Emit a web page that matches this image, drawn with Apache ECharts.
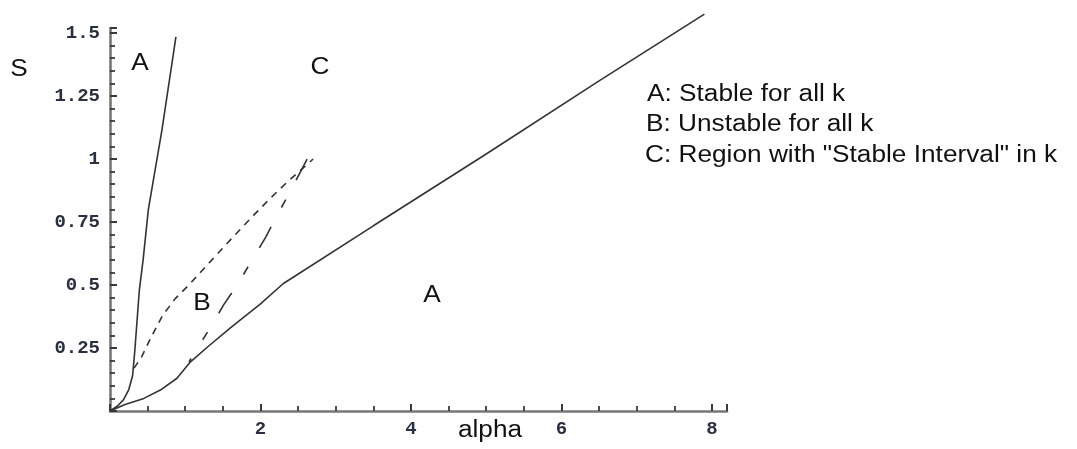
<!DOCTYPE html>
<html>
<head>
<meta charset="utf-8">
<script src="https://cdn.jsdelivr.net/npm/echarts@6/dist/echarts.min.js"></script>
<style>
  html, body { margin: 0; padding: 0; background: #fff; }
  #chart { width: 1077px; height: 449px; }
</style>
</head>
<body>
<div id="chart"></div>
<script>
// Steep solid boundary (left edge of region A)
const steepAlpha = [0, 0.1, 0.18, 0.25, 0.3, 0.33, 0.36, 0.39, 0.44, 0.51, 0.69, 0.876];
const steepS     = [0, 0.02, 0.045, 0.085, 0.14, 0.24, 0.36, 0.48, 0.6, 0.8, 1.115, 1.485];

// Lower solid boundary (right region A)
const lowerAlpha = [0, 0.2, 0.45, 0.67, 0.89, 1.07, 1.3, 1.6, 2.0, 2.3, 3.5, 5.0, 6.5, 7.9];
const lowerS     = [0, 0.026, 0.05, 0.083, 0.13, 0.195, 0.255, 0.33, 0.425, 0.505, 0.735, 1.02, 1.31, 1.575];

// Short-dashed boundary (upper edge of region B)
const shortDashAlpha = [0.32, 0.42, 0.55, 0.7, 0.87, 1.07, 1.33, 1.6, 1.87, 2.13, 2.36, 2.55, 2.7];
const shortDashS     = [0.17, 0.215, 0.295, 0.38, 0.447, 0.507, 0.592, 0.679, 0.765, 0.844, 0.91, 0.96, 1.0];

// Long-dashed boundary (lower edge of region B)
const longDashAlpha = [1.05, 1.3, 1.51, 1.69, 1.85, 2.07, 2.22, 2.38, 2.62];
const longDashS     = [0.195, 0.315, 0.421, 0.5, 0.58, 0.69, 0.776, 0.863, 1.0];

// Axis ticks
const xTickInterval = 2;
const yTickInterval = 0.25;
const xMax = 8.2;
const yMax = 1.52;

// Annotations
const axisTitleX = 'alpha';
const axisTitleY = 'S';
const legendLines = ['A: Stable for all k', 'B: Unstable for all k', 'C: Region with "Stable Interval" in k'];

function pairs(xs, ys) { return xs.map((x, i) => [x, ys[i]]); }
function isMultiple(v, step) { const r = v / step; return Math.abs(r - Math.round(r)) < 1e-6; }

const lineColor = '#333333';
const textFont = '23px "Liberation Sans", Arial, sans-serif';
const sx = 1.14;

function txt(text, x, y, align) {
  return {
    type: 'text', x: x, y: y, scaleX: sx, silent: true,
    style: { text: text, font: textFont, fill: '#111',
      align: align || 'center', verticalAlign: 'middle',
      textAlign: align || 'center', textVerticalAlign: 'middle' }
  };
}

const tickLabelStyle = {
  color: '#2a3040',
  fontFamily: '"Liberation Mono", "Courier New", monospace',
  fontSize: 19,
  fontWeight: 'bold'
};

const chart = echarts.init(document.getElementById('chart'), null, { renderer: 'canvas' });
chart.setOption({
  animation: false,
  backgroundColor: '#ffffff',
  grid: { left: 110, right: 350, top: 28, bottom: 38 },
  xAxis: {
    type: 'value', min: 0, max: xMax, interval: xTickInterval,
    splitLine: { show: false },
    axisLine: { show: true, lineStyle: { color: '#777', width: 2.6 } },
    axisTick: { show: true, inside: true, length: 7, lineStyle: { color: '#3a3a3a', width: 2 } },
    minorTick: { show: true, splitNumber: 4, length: 5, lineStyle: { color: '#3a3a3a', width: 1.8 } },
    axisLabel: Object.assign({ margin: 9,
      formatter: v => (v > 0 && isMultiple(v, xTickInterval)) ? String(v) : '' }, tickLabelStyle)
  },
  yAxis: {
    type: 'value', min: 0, max: yMax, interval: yTickInterval,
    splitLine: { show: false },
    axisLine: { show: true, lineStyle: { color: '#777', width: 2.6 } },
    axisTick: { show: true, inside: true, length: 7, lineStyle: { color: '#3a3a3a', width: 2 } },
    minorTick: { show: true, splitNumber: 5, length: 5, lineStyle: { color: '#3a3a3a', width: 1.8 } },
    axisLabel: Object.assign({ margin: 10,
      formatter: v => (v > 0 && isMultiple(v, yTickInterval)) ? String(+v.toFixed(2)) : '' }, tickLabelStyle)
  },
  series: [
    { type: 'line', data: pairs(steepAlpha, steepS), showSymbol: false, clip: false,
      lineStyle: { color: lineColor, width: 1.6 } },
    { type: 'line', data: pairs(lowerAlpha, lowerS), showSymbol: false, clip: false,
      lineStyle: { color: lineColor, width: 1.6 } },
    { type: 'line', data: pairs(shortDashAlpha, shortDashS), showSymbol: false, clip: false,
      lineStyle: { color: lineColor, width: 1.6, type: [7, 6] } },
    { type: 'line', data: pairs(longDashAlpha, longDashS), showSymbol: false, clip: false,
      lineStyle: { color: lineColor, width: 1.6, type: [24, 22, 9, 22], dashOffset: 20 } }
  ],
  graphic: [
    txt(axisTitleY, 19, 70),
    txt('A', 140, 64),
    txt('C', 320, 68),
    txt('B', 202, 304),
    txt('A', 432, 296),
    txt(axisTitleX, 490, 431),
    txt(legendLines[0], 647, 95, 'left'),
    txt(legendLines[1], 646, 125, 'left'),
    txt(legendLines[2], 645, 156, 'left')
  ]
});
</script>
</body>
</html>
